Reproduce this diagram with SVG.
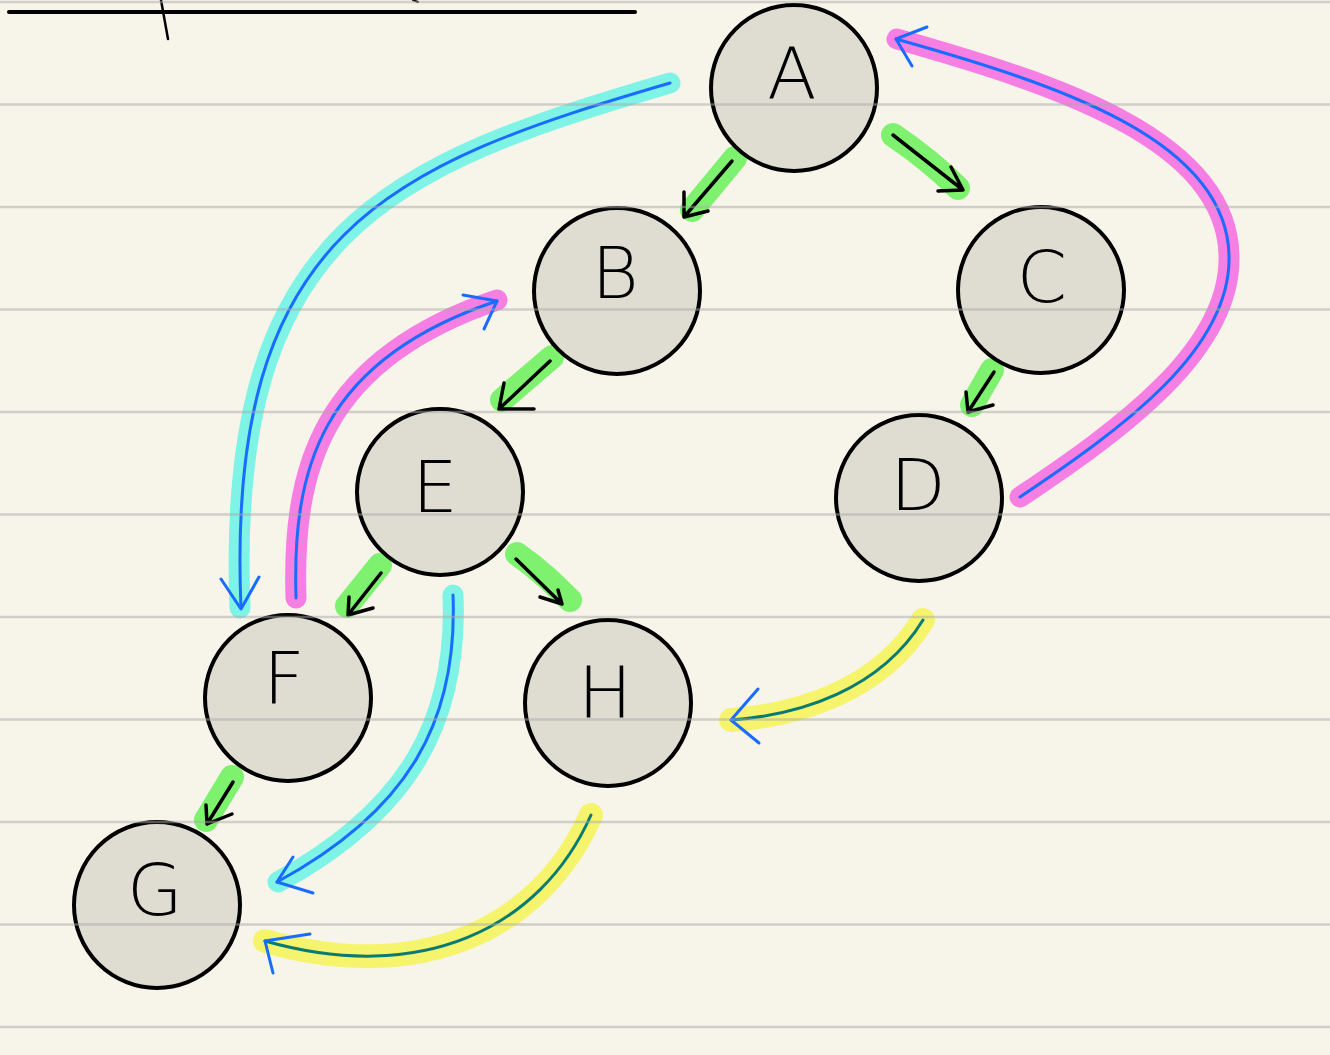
<svg xmlns="http://www.w3.org/2000/svg" width="1330" height="1055" viewBox="0 0 1330 1055">
<style>
.node circle{fill:#dfddd1;stroke:#000;stroke-width:4}
.node text{font-family:"DejaVu Sans","Liberation Sans",sans-serif;font-weight:200;font-size:72px;fill:#000;text-anchor:middle}
.g-hl{stroke:#7ef26f;stroke-width:24;stroke-linecap:round;fill:none}
.blk{stroke:#000;stroke-width:3.5;stroke-linecap:round;stroke-linejoin:round;fill:none}
.cyan{stroke:#7ef3e6;stroke-width:21;stroke-linecap:round;fill:none}
.pink{stroke:#f67fe4;stroke-width:21;stroke-linecap:round;fill:none}
.yel{stroke:#f5f46c;stroke-width:24;stroke-linecap:round;fill:none}
.blue{stroke:#1a6cff;stroke-width:3;stroke-linecap:round;stroke-linejoin:round;fill:none}
.teal{stroke:#0a7b73;stroke-width:3;stroke-linecap:round;fill:none}
.rule{stroke:#a9a9a9;stroke-opacity:0.5;stroke-width:2.5}
</style>
<rect width="1330" height="1055" fill="#f7f5e9"/>
<g id="header">
<line x1="9" y1="12" x2="635" y2="12" stroke="#000" stroke-width="4" stroke-linecap="round"/>
<line x1="161" y1="0" x2="168" y2="39" stroke="#000" stroke-width="2.5" stroke-linecap="round"/>
<line x1="413" y1="0" x2="418" y2="2" stroke="#000" stroke-width="2" stroke-linecap="round"/>
</g>
<g id="connectors">
<path class="cyan" d="M 670 83 C 390 165, 225 230, 240 608"/>
<path class="cyan" d="M 453 595 C 458 720, 410 810, 278 882"/>
<path class="pink" d="M 296 598 C 292 470, 320 360, 497 300"/>
<path class="pink" d="M 1020 497 C 1120 430, 1232 350, 1229 255 C 1226 140, 1060 85, 897 39"/>
<path class="yel" d="M 923 620 C 880 690, 800 715, 731 720"/>
<path class="yel" d="M 591 815 C 540 930, 420 985, 265 941"/>
<path class="g-hl" d="M 735 158 L 692 210"/>
<path class="g-hl" d="M 893 135 C 915 150, 935 165, 958 188"/>
<path class="g-hl" d="M 552 357 L 502 400"/>
<path class="g-hl" d="M 992 370 L 972 405"/>
<path class="g-hl" d="M 380 565 L 347 606"/>
<path class="g-hl" d="M 517 554 C 540 570, 555 585, 570 600"/>
<path class="g-hl" d="M 232 777 L 206 820"/>
<path class="blue" d="M 670 83 C 390 165, 225 230, 241 608"/>
<path class="blue" d="M 221 579 L 241 609 L 259 577"/>
<path class="blue" d="M 453 595 C 458 720, 410 810, 277 882"/>
<path class="blue" d="M 293 857 L 277 882 L 313 893"/>
<path class="blue" d="M 296 598 C 292 470, 320 360, 497 301"/>
<path class="blue" d="M 463 295 L 497 301 L 484 329"/>
<path class="blue" d="M 1020 497 C 1120 430, 1232 350, 1229 255 C 1226 140, 1060 85, 896 39"/>
<path class="blue" d="M 927 27 L 896 39 L 912 66"/>
<path class="teal" d="M 923 620 C 880 690, 800 715, 731 720"/>
<path class="blue" d="M 758 689 L 731 720 L 759 743"/>
<path class="teal" d="M 591 815 C 540 930, 420 985, 265 941"/>
<path class="blue" d="M 310 934 L 265 941 L 273 973"/>
<path class="blk" d="M 732 161 L 684 217 M 684 192 L 684 217 L 708 211"/>
<path class="blk" d="M 893 135 L 963 190 M 951 167 L 963 190 L 938 191"/>
<path class="blk" d="M 550 361 L 499 409 M 504 383 L 499 409 L 534 409"/>
<path class="blk" d="M 994 372 L 968 412 M 966 392 L 968 412 L 993 405"/>
<path class="blk" d="M 381 573 L 348 615 M 349 597 L 348 615 L 373 608"/>
<path class="blk" d="M 516 559 L 562 604 M 558 590 L 562 604 L 540 597"/>
<path class="blk" d="M 233 782 L 207 824 M 206 805 L 207 824 L 232 814"/>
</g>
<g id="node-A" class="node"><circle cx="794" cy="88" r="83"/><text x="792" y="98">A</text></g>
<g id="node-B" class="node"><circle cx="617" cy="291" r="83"/><text x="615" y="298">B</text></g>
<g id="node-C" class="node"><circle cx="1041" cy="290" r="83"/><text x="1042" y="302">C</text></g>
<g id="node-D" class="node"><circle cx="919" cy="498" r="83"/><text x="918" y="510">D</text></g>
<g id="node-E" class="node"><circle cx="440" cy="492" r="83"/><text x="435" y="512">E</text></g>
<g id="node-F" class="node"><circle cx="288" cy="698" r="83"/><text x="284" y="703">F</text></g>
<g id="node-H" class="node"><circle cx="608" cy="703" r="83"/><text x="605" y="717">H</text></g>
<g id="node-G" class="node"><circle cx="157" cy="905" r="83"/><text x="155" y="915">G</text></g>
<g id="rules">
<line class="rule" x1="0" y1="2" x2="1330" y2="2"/>
<line class="rule" x1="0" y1="104.5" x2="1330" y2="104.5"/>
<line class="rule" x1="0" y1="207" x2="1330" y2="207"/>
<line class="rule" x1="0" y1="309.5" x2="1330" y2="309.5"/>
<line class="rule" x1="0" y1="412" x2="1330" y2="412"/>
<line class="rule" x1="0" y1="514.5" x2="1330" y2="514.5"/>
<line class="rule" x1="0" y1="617" x2="1330" y2="617"/>
<line class="rule" x1="0" y1="719.5" x2="1330" y2="719.5"/>
<line class="rule" x1="0" y1="822" x2="1330" y2="822"/>
<line class="rule" x1="0" y1="924.5" x2="1330" y2="924.5"/>
<line class="rule" x1="0" y1="1027" x2="1330" y2="1027"/>
</g>
</svg>
